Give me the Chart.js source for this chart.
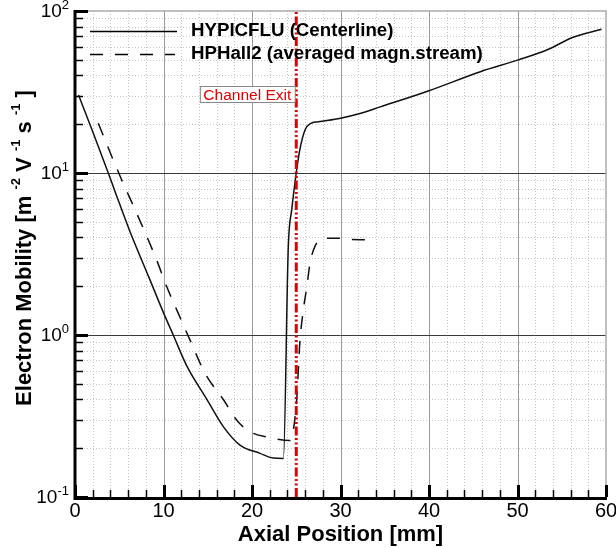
<!DOCTYPE html>
<html>
<head>
<meta charset="utf-8">
<script src="https://cdn.jsdelivr.net/npm/chart.js@4.4.1/dist/chart.umd.min.js"></script>
<style>
html,body{margin:0;padding:0;background:#fff;}
#wrap{width:616px;height:548px;position:relative;}
</style>
</head>
<body>
<div id="wrap"><canvas id="c" width="616" height="548"></canvas></div>
<script>
// ---- data ----
const centerlineX = [0.4, 2.07, 3.76, 4.52, 6.21, 8.47, 9.98, 11.1, 12.6, 14.9, 16.8, 18.6, 20.9, 22.4, 23.55, 24.1, 24.5, 25.0, 25.4, 26.0, 26.6, 27.5, 30.0, 32.2, 34.5, 40.0, 45.8, 50.1, 53.3, 56.3, 59.5];
const centerlineY = [30.3, 17.6, 10.0, 7.7, 4.35, 2.19, 1.38, 1.0, 0.65, 0.40, 0.27, 0.21, 0.186, 0.174, 0.173, 3.5, 6.0, 10.0, 13.9, 18.5, 20.2, 20.7, 21.8, 23.3, 25.6, 32.2, 42.2, 49.9, 57.4, 68.9, 77.1];
const hphallX = [2.63, 4.33, 5.28, 6.97, 9.23, 10.36, 11.67, 13.0, 14.7, 16.76, 18.45, 20.15, 21.66, 24.3, 25.05, 25.4, 25.8, 26.2, 26.55, 27.1, 28.06, 29.9, 31.1, 32.8];
const hphallY = [20.3, 12.0, 9.06, 5.64, 2.9, 1.99, 1.36, 0.93, 0.58, 0.40, 0.29, 0.247, 0.235, 0.223, 0.40, 0.89, 1.43, 1.99, 2.76, 3.51, 3.95, 3.95, 3.89, 3.87];
const channelExitX = [25, 25];
const channelExitY = [0.1, 100];
const xTickValues = [0, 10, 20, 30, 40, 50, 60];
const yTickExponents = [-1, 0, 1, 2];
const seriesNames = ["HYPICFLU (Centerline)", "HPHall2 (averaged magn.stream)"];
const exitLabel = "Channel Exit";
const xTitle = "Axial Position [mm]";

const toPts = (xs, ys) => xs.map((x, i) => ({x: x, y: ys[i]}));
const FONT = '"Liberation Sans", Arial, sans-serif';

const decorPlugin = {
  id: 'decor',
  beforeDatasetsDraw(chart) {
    const ctx = chart.ctx, xs = chart.scales.x, ys = chart.scales.y, a = chart.chartArea;
    ctx.save();
    ctx.strokeStyle = '#c4c4c4'; ctx.lineWidth = 1; ctx.setLineDash([1, 2]);
    for (let v = 2; v < 60; v += 2) {
      if (v % 10 === 0) continue;
      const px = Math.round(xs.getPixelForValue(v)) + 0.5;
      ctx.beginPath(); ctx.moveTo(px, a.top); ctx.lineTo(px, a.bottom); ctx.stroke();
    }
    for (let e = -1; e < 2; e++) {
      for (let k = 2; k <= 9; k++) {
        const py = Math.round(ys.getPixelForValue(k * Math.pow(10, e))) + 0.5;
        ctx.beginPath(); ctx.moveTo(a.left, py); ctx.lineTo(a.right, py); ctx.stroke();
      }
    }
    ctx.setLineDash([]);
    ctx.strokeStyle = '#9a9a9a'; ctx.lineWidth = 1;
    for (let v = 10; v < 60; v += 10) {
      const px = Math.round(xs.getPixelForValue(v)) + 0.5;
      ctx.beginPath(); ctx.moveTo(px, a.top); ctx.lineTo(px, a.bottom); ctx.stroke();
    }
    ctx.strokeStyle = '#3a3a3a';
    [1, 10].forEach(v => {
      const py = Math.round(ys.getPixelForValue(v)) + 0.5;
      ctx.beginPath(); ctx.moveTo(a.left, py); ctx.lineTo(a.right, py); ctx.stroke();
    });
    ctx.strokeStyle = '#aaaaaa'; ctx.lineWidth = 1.5;
    ctx.beginPath(); ctx.moveTo(a.left, a.top); ctx.lineTo(a.right, a.top); ctx.lineTo(a.right, a.bottom); ctx.stroke();
    ctx.restore();
  },
  afterDatasetsDraw(chart) {
    const ctx = chart.ctx, xs = chart.scales.x, ys = chart.scales.y, a = chart.chartArea;
    ctx.save();
    ctx.strokeStyle = '#000';
    ctx.lineWidth = 3;
    ctx.beginPath(); ctx.moveTo(a.left, a.top - 1); ctx.lineTo(a.left, a.bottom + 1.5); ctx.lineTo(a.right + 1, a.bottom + 1.5); ctx.stroke();
    for (let e = -1; e < 2; e++) {
      for (let k = 2; k <= 9; k++) {
        const py = Math.round(ys.getPixelForValue(k * Math.pow(10, e))) + 0.5;
        ctx.lineWidth = 1.5;
        ctx.beginPath(); ctx.moveTo(a.left, py); ctx.lineTo(a.left + 8, py); ctx.stroke();
      }
    }
    yTickExponents.forEach(e => {
      const py = Math.round(ys.getPixelForValue(Math.pow(10, e))) + 0.5;
      ctx.lineWidth = 3;
      ctx.beginPath(); ctx.moveTo(a.left, py); ctx.lineTo(a.left + 13, py); ctx.stroke();
    });
    for (let v = 2; v < 60; v += 2) {
      if (v % 10 === 0) continue;
      const px = Math.round(xs.getPixelForValue(v)) + 0.5;
      ctx.lineWidth = 1.5;
      ctx.beginPath(); ctx.moveTo(px, a.bottom); ctx.lineTo(px, a.bottom - 7); ctx.stroke();
    }
    xTickValues.forEach(v => {
      const px = Math.round(xs.getPixelForValue(v)) + 0.5;
      ctx.lineWidth = 3;
      ctx.beginPath(); ctx.moveTo(px, a.bottom); ctx.lineTo(px, a.bottom - 12); ctx.stroke();
    });
    ctx.restore();
  },
  afterDraw(chart) {
    const ctx = chart.ctx, xs = chart.scales.x, ys = chart.scales.y, a = chart.chartArea;
    ctx.save();
    ctx.fillStyle = '#000';
    ctx.font = '20px ' + FONT; ctx.textAlign = 'center'; ctx.textBaseline = 'middle';
    xTickValues.forEach(v => {
      ctx.fillText(String(v), xs.getPixelForValue(v), a.bottom + 14);
    });
    yTickExponents.forEach(e => {
      const py = ys.getPixelForValue(Math.pow(10, e));
      ctx.font = '13px ' + FONT;
      const sup = String(e);
      const sw = ctx.measureText(sup).width;
      ctx.font = '19px ' + FONT;
      const mw = ctx.measureText('10').width;
      const right = a.left - 6;
      ctx.textAlign = 'left'; ctx.textBaseline = 'middle';
      ctx.fillText('10', right - sw - mw, py + 1);
      ctx.font = '13px ' + FONT;
      ctx.fillText(sup, right - sw, py - 6);
    });
    ctx.font = 'bold 22px ' + FONT; ctx.textAlign = 'center'; ctx.textBaseline = 'alphabetic';
    ctx.fillText(xTitle, (a.left + a.right) / 2, 541);
    const segs = [
      ['Electron Mobility [m ', false], ['-2', true], [' V ', false], ['-1', true],
      [' s ', false], ['-1', true], [' ]', false]
    ];
    const mainF = 'bold 22px ' + FONT, supF = 'bold 13px ' + FONT;
    let total = 0;
    segs.forEach(s => { ctx.font = s[1] ? supF : mainF; total += ctx.measureText(s[0]).width; });
    ctx.translate(31, 248);
    ctx.rotate(-Math.PI / 2);
    ctx.textAlign = 'left'; ctx.textBaseline = 'alphabetic';
    let cx = -total / 2;
    segs.forEach(s => {
      ctx.font = s[1] ? supF : mainF;
      ctx.fillText(s[0], cx, s[1] ? -11 : 0);
      cx += ctx.measureText(s[0]).width;
    });
    ctx.setTransform(1, 0, 0, 1, 0, 0);
    ctx.lineWidth = 1.5; ctx.strokeStyle = '#000';
    ctx.beginPath(); ctx.moveTo(90, 31.5); ctx.lineTo(177, 31.5); ctx.stroke();
    ctx.setLineDash([13, 12]);
    ctx.beginPath(); ctx.moveTo(90, 54.5); ctx.lineTo(175, 54.5); ctx.stroke();
    ctx.setLineDash([]);
    ctx.font = 'bold 18.7px ' + FONT; ctx.textAlign = 'left'; ctx.textBaseline = 'middle';
    ctx.fillText(seriesNames[0], 191, 31);
    ctx.fillText(seriesNames[1], 191, 54);
    const ex = xs.getPixelForValue(channelExitX[0]);
    ctx.font = '15.5px ' + FONT;
    const tw = ctx.measureText(exitLabel).width;
    const bw = tw + 7, bx = ex - 1.5 - bw, by = 86.5, bh = 16;
    ctx.fillStyle = '#fff'; ctx.fillRect(bx, by, bw, bh);
    ctx.strokeStyle = '#888'; ctx.lineWidth = 1; ctx.strokeRect(bx + 0.5, by, bw, bh);
    ctx.fillStyle = '#e00000'; ctx.textBaseline = 'middle';
    ctx.fillText(exitLabel, bx + 3.5, by + bh / 2 + 1);
    ctx.restore();
  }
};

new Chart(document.getElementById('c'), {
  type: 'scatter',
  data: {
    datasets: [
      { label: 'Channel Exit', data: toPts(channelExitX, channelExitY), showLine: true, borderColor: '#e00000', borderWidth: 3, borderDash: [9, 2.5, 2, 2.5, 2, 2.5], pointRadius: 0, fill: false },
      { label: seriesNames[0], data: toPts(centerlineX, centerlineY), showLine: true, borderColor: '#111', borderWidth: 1.5, pointRadius: 0, cubicInterpolationMode: 'monotone', fill: false },
      { label: seriesNames[1], data: toPts(hphallX, hphallY), showLine: true, borderColor: '#111', borderWidth: 1.5, borderDash: [13, 12], pointRadius: 0, cubicInterpolationMode: 'monotone', fill: false }
    ]
  },
  options: {
    responsive: false,
    animation: false,
    layout: { padding: { left: 75, right: 10, top: 11, bottom: 51 } },
    plugins: { legend: { display: false }, tooltip: { enabled: false } },
    scales: {
      x: { type: 'linear', min: 0, max: 60, display: false },
      y: { type: 'logarithmic', min: 0.1, max: 100, display: false }
    }
  },
  plugins: [decorPlugin]
});
</script>
</body>
</html>
